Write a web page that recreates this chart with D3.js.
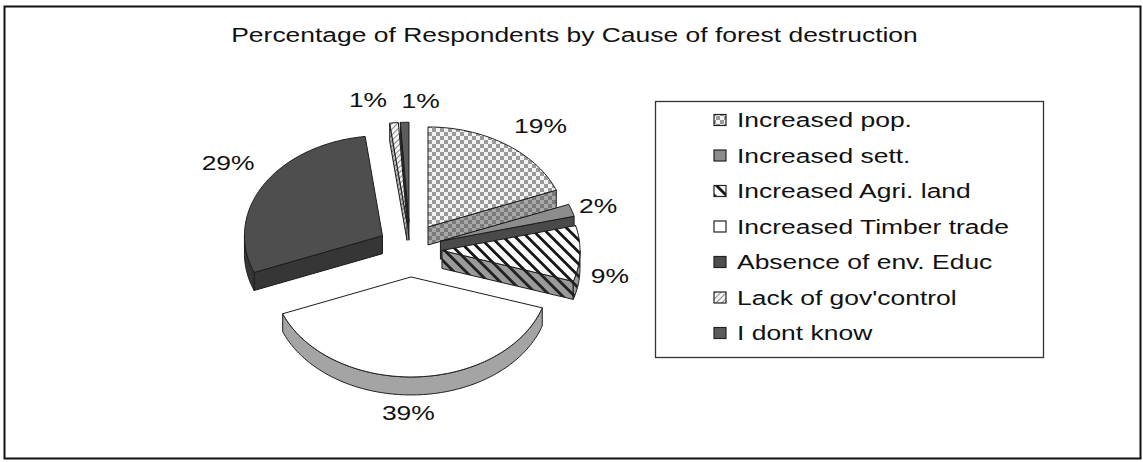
<!DOCTYPE html>
<html>
<head>
<meta charset="utf-8">
<script src="https://cdn.jsdelivr.net/npm/d3@7"></script>
<style>
  html, body { margin: 0; padding: 0; background: #fff; }
  svg { display: block; }
  text { font-family: "Liberation Sans", Arial, sans-serif; fill: #111; }
</style>
</head>
<body>
<svg id="chart" width="1143" height="462"></svg>
<script>
// ---- data ----
const chartTitle = "Percentage of Respondents by Cause of forest destruction";
const categories = [
  "Increased pop.",
  "Increased sett.",
  "Increased Agri. land",
  "Increased Timber trade",
  "Absence of env. Educ",
  "Lack of gov'control",
  "I dont know"
];
const percentages = [19, 2, 9, 39, 29, 1, 1];

// ---- layout ----
const W = 1143, H = 462;
const textStretch = 1.26;           // wide lettering used throughout
const pie3d = { cx: 410, cy: 249.6, rx: 138, ry: 100, depth: 18, explode: 32, explodeTilt: 0.855 };
const tilt = pie3d.ry / pie3d.rx;

// fills for top faces and side faces of each slice
const sliceStyle = [
  { top: "url(#pChecker)", side: "url(#pCheckerDark)" },
  { top: "#8c8c8c",        side: "#4a4a4a" },
  { top: "url(#pStripe)",  side: "url(#pStripeDark)" },
  { top: "#ffffff",        side: "#a4a4a4" },
  { top: "#4e4e4e",        side: "#363636" },
  { top: "url(#pHatch)",   side: "url(#pHatchDark)" },
  { top: "#5c5c5c",        side: "#2c2c2c" }
];
// small label shifts, as the labels were arranged by hand
const labelNudge = [[17, -6], [-4, 0], [-2, 21], [-8, 2], [-8, -14], [-23, -7.5], [17, -6.5]];

const svg = d3.select("#chart");
const defs = svg.append("defs");

function checker(id, bg, sq) {
  const p = defs.append("pattern").attr("id", id).attr("patternUnits", "userSpaceOnUse")
    .attr("width", 8).attr("height", 8);
  p.append("rect").attr("width", 8).attr("height", 8).attr("fill", bg);
  p.append("rect").attr("width", 4).attr("height", 4).attr("fill", sq);
  p.append("rect").attr("x", 4).attr("y", 4).attr("width", 4).attr("height", 4).attr("fill", sq);
}
function stripes(id, bg, fg, size, lw, angle) {
  const p = defs.append("pattern").attr("id", id).attr("patternUnits", "userSpaceOnUse")
    .attr("width", size).attr("height", size).attr("patternTransform", `rotate(${angle})`);
  p.append("rect").attr("width", size).attr("height", size).attr("fill", bg);
  p.append("rect").attr("width", lw).attr("height", size).attr("fill", fg);
}
checker("pChecker", "#f3f3f3", "#9a9a9a");
checker("pCheckerDark", "#a8a8a8", "#7a7a7a");
stripes("pStripe", "#ffffff", "#151515", 8.5, 2.8, -45);
stripes("pStripeDark", "#9a9a9a", "#202020", 8.5, 2.8, -45);
stripes("pHatch", "#f4f4f4", "#8a8a8a", 4, 1, 45);
stripes("pHatchDark", "#bdbdbd", "#6a6a6a", 4, 1, 45);

// background + frame
svg.append("rect").attr("width", W).attr("height", H).attr("fill", "#fff");
svg.append("rect").attr("x", 4.5).attr("y", 6.5).attr("width", 1136).attr("height", 452)
  .attr("fill", "none").attr("stroke", "#111").attr("stroke-width", 2);

// title
svg.append("text")
  .attr("transform", `translate(574.5,42) scale(${textStretch},1)`)
  .attr("text-anchor", "middle").attr("font-size", 21)
  .text(chartTitle);

// ---- 3D pie ----
const arcs = d3.pie().sort(null).value(d => d)(percentages)
  .map((a, i) => ({ ...a, i, mid: (a.startAngle + a.endAngle) / 2 }));

// ellipse projection of a polar point on the pie plane
const proj = (theta, r, k = tilt) => [r * Math.sin(theta), -r * Math.cos(theta) * k];
const line = d3.line();
const poly = pts => line(pts) + "Z";

function apexOf(a) {
  const o = proj(a.mid, pie3d.explode, pie3d.explodeTilt);
  return [pie3d.cx + o[0], pie3d.cy + o[1]];
}
function rimPoints(A, t0, t1) {
  const n = Math.max(2, Math.ceil((t1 - t0) / (Math.PI / 180)));
  return d3.range(n + 1).map(k => {
    const t = t0 + (t1 - t0) * k / n;
    const p = proj(t, pie3d.rx);
    return [A[0] + p[0], A[1] + p[1]];
  });
}
const rimAt = (A, t) => { const p = proj(t, pie3d.rx); return [A[0] + p[0], A[1] + p[1]]; };
const down = p => [p[0], p[1] + pie3d.depth];

const gPie = svg.append("g");
const order = arcs.slice().sort((a, b) => (-Math.cos(a.mid)) - (-Math.cos(b.mid)));
const stroke = "#1c1c1c";

function face(g, d, fill) {
  g.append("path").attr("d", d).attr("fill", fill)
    .attr("stroke", stroke).attr("stroke-width", 1).attr("stroke-linejoin", "round");
}

order.forEach(a => {
  const A = apexOf(a);
  const st = sliceStyle[a.i];
  const g = gPie.append("g");
  const r0 = rimAt(A, a.startAngle);
  const r1 = rimAt(A, a.endAngle);
  // radial faces that turn toward the viewer
  if (Math.sin(a.startAngle) < 0) face(g, poly([A, r0, down(r0), down(A)]), st.side);
  if (Math.sin(a.endAngle) > 0) face(g, poly([A, r1, down(r1), down(A)]), st.side);
  // outer curved face (front half only)
  const f0 = Math.max(a.startAngle, Math.PI / 2), f1 = Math.min(a.endAngle, 3 * Math.PI / 2);
  if (f1 > f0) {
    const top = rimPoints(A, f0, f1);
    face(g, poly(top.concat(top.map(down).reverse())), st.side);
  }
  // top face
  face(g, poly([A].concat(rimPoints(A, a.startAngle, a.endAngle))), st.top);
});

// percentage labels outside each slice
const gap = 8, halfW = 24, halfH = 7.5;
arcs.forEach(a => {
  const A = apexOf(a);
  const s = Math.sin(a.mid), c = Math.cos(a.mid);
  let px = A[0] + (pie3d.rx + gap) * s;
  let py = A[1] - (pie3d.ry + gap) * c + pie3d.depth * Math.max(0, -c);
  px += s * halfW + labelNudge[a.i][0];
  py += -c * halfH + labelNudge[a.i][1];
  svg.append("text")
    .attr("transform", `translate(${px},${py + 7.5}) scale(${textStretch},1)`)
    .attr("text-anchor", "middle").attr("font-size", 21)
    .text(percentages[a.i] + "%");
});

// ---- legend ----
const legend = svg.append("g");
legend.append("rect").attr("x", 655.5).attr("y", 101.5).attr("width", 388).attr("height", 256)
  .attr("fill", "#fff").attr("stroke", "#333").attr("stroke-width", 1.3);
const rowY = d3.scalePoint().domain(categories).range([120, 333]);
categories.forEach((name, i) => {
  const y = rowY(name);
  legend.append("rect").attr("x", 714).attr("y", y - 5.5).attr("width", 12).attr("height", 11)
    .attr("fill", sliceStyle[i].top).attr("stroke", "#222").attr("stroke-width", 1.2);
  legend.append("text")
    .attr("transform", `translate(737,${y + 7}) scale(${textStretch},1)`)
    .attr("font-size", 21)
    .text(name);
});
</script>
</body>
</html>
